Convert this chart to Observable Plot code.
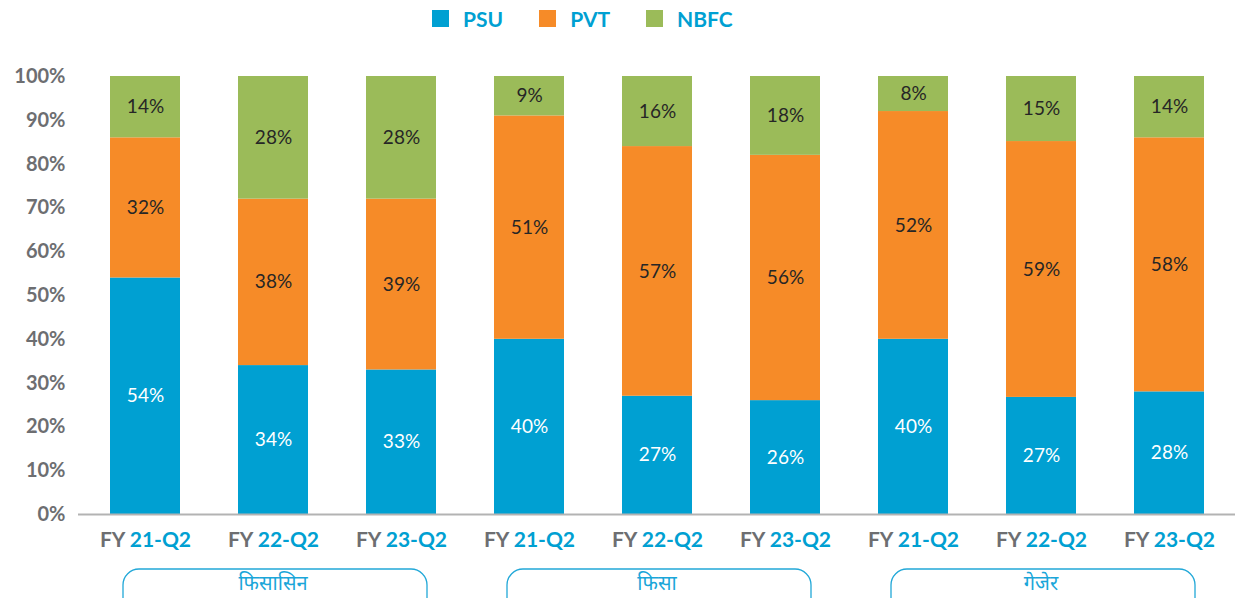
<!DOCTYPE html>
<html><head><meta charset="utf-8">
<script src="https://cdn.jsdelivr.net/npm/d3@7"></script>
<script src="https://cdn.jsdelivr.net/npm/@observablehq/plot@0.6"></script>
<style>
body{margin:0;background:#fff;font-family:Lato,"Noto Sans",sans-serif;}
#legend{height:36px;display:flex;justify-content:flex-start;align-items:center;padding-left:432px;}
.li{display:flex;align-items:center;margin-right:36px;}
.sw{width:17px;height:17px;margin-right:14px;}
.lt{font-weight:bold;font-size:21px;color:#00A0D2;}
</style></head><body>
<div id="legend"></div>
<div id="chart"></div>
<script>
const groups = ["फिसासिन", "फिसा", "गेजेर"];
const periods = ["21-Q2", "22-Q2", "23-Q2"];
const seriesNames = ["PSU", "PVT", "NBFC"];
const psu  = [54, 34, 33, 40, 27, 26, 40, 27, 28];
const pvt  = [32, 38, 39, 51, 57, 56, 52, 59, 58];
const nbfc = [14, 28, 28, 9, 16, 18, 8, 15, 14];
const colors = ["#00A0D2", "#F68B28", "#9BBB59"];
const yTicks = [0, 0.1, 0.2, 0.3, 0.4, 0.5, 0.6, 0.7, 0.8, 0.9, 1];

const values = [psu, pvt, nbfc];
const keys = [];
const data = [];
groups.forEach((g, gi) => periods.forEach((p, pi) => {
  const i = gi * 3 + pi;
  const key = g + "|" + p;
  keys.push(key);
  seriesNames.forEach((s, si) => data.push({key, group: g, period: p, series: s, value: values[si][i]}));
}));

// legend
const lg = document.getElementById("legend");
seriesNames.forEach((s, i) => {
  const el = document.createElement("div");
  el.className = "li";
  el.innerHTML = `<div class="sw" style="background:${colors[i]}"></div><span class="lt">${s}</span>`;
  lg.appendChild(el);
});

const plot = Plot.plot({
  width: 1243,
  height: 562,
  marginTop: 40,
  marginBottom: 84,
  marginLeft: 97,
  marginRight: 25,
  style: {fontFamily: "Lato, 'Noto Sans', sans-serif", background: "#fff"},
  x: {domain: keys, paddingInner: 0.45, paddingOuter: 0.1, label: null},
  y: {domain: [0, 1], label: null},
  color: {domain: seriesNames, range: colors},
  marks: [
    Plot.barY(data, {x: "key", y: "value", fill: "series", offset: "normalize"}),
    Plot.text(data, Plot.stackY({
      x: "key", y: "value", z: "series", offset: "normalize",
      text: d => d.value + "%",
      fill: d => d.series === "PSU" ? "#ffffff" : "#262626",
      fontSize: 19
    })),
    Plot.ruleY([0], {stroke: "#b3b3b3", strokeWidth: 2, insetLeft: -19, insetRight: -17}),
    Plot.axisY({ticks: yTicks, tickFormat: d3.format(".0%"), tickSize: 0, tickPadding: 32,
      fontSize: 20, fontWeight: "bold", fill: "#6d6e71"}),
    Plot.axisX({tickSize: 0, tickPadding: 18, fontSize: 21, fontWeight: "bold",
      tickFormat: d => "FY " + d.split("|")[1]})
  ]
});
document.getElementById("chart").appendChild(plot);

const svg = d3.select(plot);
// two-colour x tick labels
svg.selectAll('g[aria-label="x-axis tick label"] text').each(function() {
  const t = d3.select(this);
  const s = t.text();
  const rest = s.replace(/^FY /, "");
  t.text(null);
  t.append("tspan").attr("fill", "#6d6e71").text("FY ");
  t.append("tspan").attr("fill", "#00A0D2").text(rest);
});

// group boxes and labels
const xs = plot.scale("x");
const bw = xs.bandwidth;
const y0 = plot.scale("y").apply(0);
const gLayer = svg.append("g");
groups.forEach((g, gi) => {
  const k1 = keys[gi * 3], k2 = keys[gi * 3 + 2], km = keys[gi * 3 + 1];
  const left = xs.apply(k1) + 13;
  const right = xs.apply(k2) + bw - 9;
  gLayer.append("rect")
    .attr("x", left).attr("y", y0 + 55)
    .attr("width", right - left).attr("height", 60)
    .attr("rx", 16).attr("ry", 16)
    .attr("fill", "none").attr("stroke", "#22a8d8").attr("stroke-width", 1.3);
  gLayer.append("text")
    .attr("x", xs.apply(km) + bw / 2).attr("y", y0 + 69)
    .attr("text-anchor", "middle").attr("dy", "0.35em")
    .attr("fill", "#1aa6d9").attr("font-size", 20)
    .attr("font-family", "'Noto Sans', Lato, sans-serif")
    .text(g);
});
</script>
</body></html>
